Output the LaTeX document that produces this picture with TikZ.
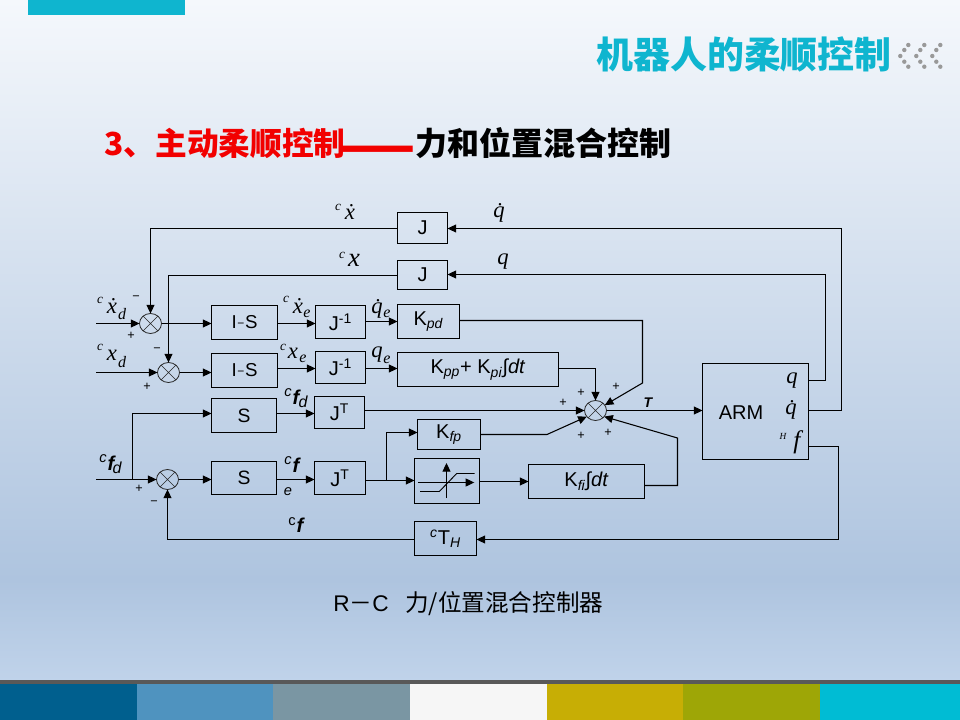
\documentclass[tikz,border=0pt]{standalone}
\usepackage{fontspec}
\setmainfont{Liberation Sans}
\newfontfamily\cjk{Noto Sans CJK SC}
\newfontfamily\mi{Liberation Serif}
\usetikzlibrary{arrows.meta,shapes.geometric,calc}
\definecolor{tealhead}{HTML}{0FB5CF}
\definecolor{bgtop}{HTML}{F5F8FC}
\definecolor{bgmid}{HTML}{AEC4DF}
\definecolor{bgbot}{HTML}{C0D3EA}
\definecolor{st1}{HTML}{005F8E}
\definecolor{st2}{HTML}{4F93BF}
\definecolor{st3}{HTML}{7A96A3}
\definecolor{st4}{HTML}{F6F6F6}
\definecolor{st5}{HTML}{C7AE05}
\definecolor{st6}{HTML}{9EA606}
\definecolor{st7}{HTML}{00BCD4}
\tikzset{
  blk/.style={draw=black,line width=.75pt,inner sep=0pt,outer sep=0pt,font=\fontsize{15}{15}\selectfont},
  sumj/.style={draw=black!85,line width=.6pt,ellipse,inner sep=0pt,outer sep=0pt,minimum width=16.5pt,minimum height=15pt},
  wire/.style={line width=.8pt,black},
  arr/.style={wire,-{Triangle[length=6.5pt,width=6pt]}},
  sgn/.style={inner sep=0pt,font=\fontsize{9.5}{9.5}\selectfont},
  mth/.style={inner sep=0pt,font=\mi\itshape\fontsize{17}{17}\selectfont},
  mthb/.style={inner sep=0pt,font=\mi\itshape\fontsize{20}{20}\selectfont},
  sup/.style={inner sep=0pt,font=\mi\itshape\fontsize{10}{10}\selectfont},
  sub/.style={inner sep=0pt,font=\mi\itshape\fontsize{12}{12}\selectfont},
  ftxt/.style={inner sep=0pt,font=\bfseries\itshape\fontsize{15}{15}\selectfont},
  fsup/.style={inner sep=0pt,font=\itshape\fontsize{11}{11}\selectfont},
  fsub/.style={inner sep=0pt,font=\itshape\fontsize{12}{12}\selectfont},
}
\newcommand\bx[6]{%
  \pgfmathsetmacro\bxw{(#4-#2)*.75}\pgfmathsetmacro\bxh{(#5-#3)*.75}%
  \node[blk,minimum width=\bxw pt,minimum height=\bxh pt] (#1) at ({(#2+#4)/2},{(#3+#5)/2}) {\raisebox{-.9pt}{#6}};}
\newcommand\sj[3]{%
  \node[sumj] (#1) at (#2,#3) {};
  \draw[line width=.5pt,black!85] (#1.45) -- (#1.225) (#1.135) -- (#1.315);}
\newcommand\subi[1]{\textsubscript{\textit{#1}}}
\newcommand\ism{\fontsize{14}{14}\selectfont I\hspace{.5pt}\raisebox{.06em}{\fontsize{9}{9}\selectfont −}\hspace{.5pt}S}
\begin{document}
\begin{tikzpicture}[x=.75pt,y=-.75pt]
\useasboundingbox (0,0) rectangle (960,720);
% background
\shade[top color=bgtop,bottom color=bgmid,draw=none] (0,0) rectangle (960,580);
\shade[top color=bgmid,bottom color=bgbot,draw=none] (0,579.5) rectangle (960,681);
\fill[tealhead] (28,0) rectangle (185,15);
% footer
\fill[black!65] (0,680) rectangle (960,684);
\fill[st1] (0,684) rectangle (137,720);
\fill[st2] (137,684) rectangle (273,720);
\fill[st3] (273,684) rectangle (410,720);
\fill[st4] (410,684) rectangle (547,720);
\fill[st5] (547,684) rectangle (683,720);
\fill[st6] (683,684) rectangle (820,720);
\fill[st7] (820,684) rectangle (960,720);
% header
\node[anchor=base west,inner sep=0pt,text=tealhead,font=\cjk\bfseries\fontsize{27.7}{27.7}\selectfont] (head) at (596,69) {机器人的柔顺控制};
\foreach \dx in {0,16,32}
  \foreach \px/\py in {908.3/45,904.3/50,900.3/56,904.3/61.7,908.3/66.7}
    \fill[black!40] (\px+\dx,\py) circle[radius=2.2];
% title
\node[anchor=base west,inner sep=0pt,text=red!95!black,font=\cjk\bfseries\fontsize{23.8}{23.8}\selectfont] (tta) at (104,155.5) {3、主动柔顺控制};
\node[anchor=base west,inner sep=0pt,text=red!95!black,font=\cjk\bfseries\fontsize{24}{24}\selectfont] (ttd) at (337.5,166) {\scalebox{1.42}[1.75]{——}};
\node[anchor=base west,inner sep=0pt,text=black,font=\cjk\bfseries\fontsize{24}{24}\selectfont] (ttb) at (415,155.5) {力和位置混合控制};
% caption
\node[anchor=base west,inner sep=0pt,text=black,font=\fontsize{17}{17}\selectfont] (capa) at (333,611) {R{\cjk －}C};
\node[anchor=base west,inner sep=0pt,text=black,font=\cjk\fontsize{17.7}{17.7}\selectfont] (capb) at (405,611) {力/位置混合控制器};
% blocks
\bx{ja}{397.5}{212.5}{447.5}{243.5}{J}
\bx{jb}{397.5}{260.5}{447.5}{289.5}{J}
\bx{isa}{211.5}{305.5}{277.5}{339.5}{\ism}
\bx{isb}{211.5}{353.5}{277.5}{387.5}{\ism}
\bx{jia}{315.5}{305.5}{365.5}{338.5}{J\textsuperscript{-1}}
\bx{jib}{315.5}{351.5}{365.5}{383.5}{J\textsuperscript{-1}}
\bx{kpd}{397.5}{304.5}{459.5}{338.5}{K\subi{pd}}
\bx{kpp}{397.5}{352.5}{558.5}{386.5}{K\subi{pp}+ K\subi{pi}∫\textit{dt}}
\bx{sa}{211.5}{398.5}{276.5}{432.5}{\fontsize{14.5}{14.5}\selectfont S}
\bx{sb}{211.5}{461.5}{276.5}{494.5}{\fontsize{14.5}{14.5}\selectfont S}
\bx{jta}{314.5}{396.5}{364.5}{428.5}{J\textsuperscript{T}}
\bx{jtb}{314.5}{461.5}{365.5}{494.5}{J\textsuperscript{T}}
\bx{kfp}{417.5}{419.5}{480.5}{449.5}{K\subi{fp}}
\bx{sat}{414.5}{458.5}{479.5}{503.5}{}
\bx{kfi}{528.5}{464.5}{644.5}{498.5}{K\subi{fi}∫\textit{dt}}
\bx{cth}{414.5}{521.5}{476.5}{555.5}{\textsuperscript{\textit{c}}T\subi{H}}
\bx{arm}{702.5}{363.5}{808.5}{459.5}{}
\node[inner sep=0pt,font=\fontsize{15}{15}\selectfont] (armt) at (741,413) {ARM};
% saturation symbol
\draw[arr] (418.3,482.5) -- (474.3,482.5);
\draw[arr] (446.5,498) -- (446.5,463);
\draw[line width=.7pt] (420,491.5) -- (439.3,491.5) -- (456.7,473.5) -- (474.7,473.5);
% summing junctions
\sj{sua}{150.5}{323.5}
\sj{sub}{168.5}{372.5}
\sj{suc}{595.5}{410.5}
\sj{sud}{167.5}{479.5}
% free ends and bends
\coordinate (ina) at (96,323.5);
\coordinate (inb) at (96,372.5);
\coordinate (inc) at (96,479.5);
\coordinate (brf) at (132.5,479.5);
% feedback
\draw[arr] (arm.east |- 0,410.5) -- (841.5,410.5) -- (841.5,228.5) -- (ja.east |- 0,228.5);
\draw[arr] (ja.west |- 0,228.5) -- (sua.north |- 0,228.5) -- (sua.north);
\draw[arr] (arm.east |- 0,380.5) -- (825.5,380.5) -- (825.5,274.5) -- (jb.east |- 0,274.5);
\draw[arr] (jb.west |- 0,275.5) -- (sub.north |- 0,275.5) -- (sub.north);
\draw[arr] (arm.east |- 0,446.5) -- (838.5,446.5) -- (838.5,539.5) -- (cth.east |- 0,539.5);
\draw[arr] (cth.west |- 0,539.5) -- (sud.south |- 0,539.5) -- (sud.south);
% upper chain
\draw[arr] (ina) -- (sua.west);
\draw[arr] (sua.east) -- (isa.west |- 0,323.5);
\draw[arr] (isa.east |- 0,323.5) -- (jia.west |- 0,323.5);
\draw[arr] (jia.east |- 0,321.5) -- (kpd.west |- 0,321.5);
\draw[arr] (inb) -- (sub.west);
\draw[arr] (sub.east) -- (isb.west |- 0,372.5);
\draw[arr] (isb.east |- 0,368.5) -- (jib.west |- 0,368.5);
\draw[arr] (jib.east |- 0,368.5) -- (kpp.west |- 0,368.5);
% lower chain
\draw[wire] (inc) -- (brf);
\draw[arr] (brf) -- (sud.west);
\draw[arr] (brf) -- (132.5,413.5) -- (sa.west |- 0,413.5);
\draw[arr] (sud.east) -- (sb.west |- 0,479.5);
\draw[arr] (sa.east |- 0,413.5) -- (jta.west |- 0,413.5);
\draw[arr] (sb.east |- 0,479.5) -- (jtb.west |- 0,479.5);
\draw[arr] (jta.east |- 0,410.5) -- (suc.west);
\draw[arr] (jtb.east |- 0,480.5) -- (sat.west |- 0,480.5);
\draw[arr] (386.5,480.5) -- (386.5,432.5) -- (kfp.west |- 0,432.5);
\draw[arr] (sat.east |- 0,481.5) -- (kfi.west |- 0,481.5);
% into the main junction
\draw[arr] (kpd.east |- 0,320.5) -- (642.5,320.5) -- (642.5,383) -- (suc.30);
\draw[arr] (kpp.east |- 0,368.5) -- (suc.north |- 0,368.5) -- (suc.north);
\draw[arr] (kfp.east |- 0,434.5) -- (547,434.5) -- (suc.215);
\draw[arr] (kfi.east |- 0,485.5) -- (677.5,485.5) -- (677.5,438) -- (suc.325);
\draw[arr] (suc.east) -- (arm.west |- 0,410.5);
% signs
\foreach \sx/\sy/\st in {136/298/−,131/336/+,157/350/−,147/387/+,563/403/+,581/393/+,616/387/+,581/436/+,608/433/+,139/489/+,154/503/−}
  \node[sgn] at (\sx,\sy) {\st};
\node[inner sep=0pt,font=\bfseries\itshape\fontsize{10.5}{10.5}\selectfont] at (648,403) {T};
% math labels
\node[sup] at (338,207) {c}; \node[mth] at (350,212) {\.x};
\node[sup] at (342,255) {c}; \node[mthb] at (354,260) {x};
\node[mth] at (499,213) {\.q};
\node[mth] at (503,262) {q};
\node[sup] at (100,300) {c}; \node[mth] at (112,306) {\.x}; \node[sub] at (122,314) {d};
\node[sup] at (100,347) {c}; \node[mth] at (112,355) {x}; \node[sub] at (122,362) {d};
\node[sup] at (286,299) {c}; \node[mth] at (298,306) {\.x}; \node[sub] at (307,314) {e};
\node[sup] at (283,347) {c}; \node[mth] at (293,353) {x}; \node[sub] at (303,359) {e};
\node[mth] at (377,309) {\.q}; \node[sub] at (387,314) {e};
\node[mth] at (377,355) {q}; \node[sub] at (387,360) {e};
\node[mth] at (792,381) {q}; \node[mth] at (791,410) {\.q};
\node[sup,font=\mi\itshape\fontsize{7}{7}\selectfont] at (783,436) {H}; \node[mth,font=\mi\itshape\fontsize{19}{19}\selectfont] at (797,442) {f};
% force labels
\node[fsup] at (288,393) {c}; \node[ftxt] at (296,397) {f}; \node[fsub] at (303,402) {d};
\node[fsup] at (103,459) {c}; \node[ftxt] at (111,463) {f}; \node[fsub] at (117,468) {d};
\node[fsup] at (288,461) {c}; \node[ftxt] at (296,465) {f};
\node[fsup] at (288,492) {e};
\node[fsup,font=\fontsize{11}{11}\selectfont] at (292,522) {c}; \node[ftxt] at (300,525) {f};
\end{tikzpicture}
\end{document}
